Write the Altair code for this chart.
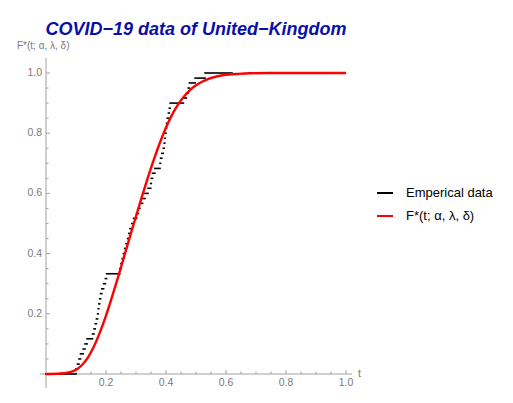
import altair as alt
import pandas as pd

# ---------------- data ----------------
# empirical CDF: step start positions and step heights
emp_x = [0.000, 0.100, 0.105, 0.110, 0.115, 0.124, 0.130, 0.137, 0.155, 0.160,
         0.164, 0.168, 0.172, 0.174, 0.176, 0.179, 0.182, 0.186, 0.192, 0.198,
         0.202, 0.246, 0.250, 0.254, 0.258, 0.262, 0.267, 0.272, 0.276, 0.280,
         0.286, 0.292, 0.302, 0.308, 0.313, 0.322, 0.330, 0.340, 0.349, 0.351,
         0.355, 0.363, 0.380, 0.382, 0.386, 0.391, 0.394, 0.396, 0.397, 0.400,
         0.402, 0.404, 0.408, 0.411, 0.414, 0.458, 0.468, 0.474, 0.478, 0.497,
         0.530]
emp_y = [0.000, 0.017, 0.033, 0.050, 0.067, 0.083, 0.100, 0.117, 0.133, 0.150,
         0.167, 0.183, 0.200, 0.217, 0.233, 0.250, 0.267, 0.283, 0.300, 0.317,
         0.333, 0.350, 0.367, 0.383, 0.400, 0.417, 0.433, 0.450, 0.467, 0.483,
         0.500, 0.517, 0.533, 0.550, 0.567, 0.583, 0.600, 0.617, 0.633, 0.650,
         0.667, 0.683, 0.700, 0.717, 0.733, 0.750, 0.767, 0.783, 0.800, 0.817,
         0.833, 0.850, 0.867, 0.883, 0.900, 0.917, 0.933, 0.950, 0.967, 0.983,
         1.000]
emp_last_end = 0.62

# fitted CDF F*(t; alpha, lambda, delta), sampled along the red curve
fit_x = [0.00, 0.04, 0.08, 0.10, 0.12, 0.14, 0.16, 0.18, 0.20, 0.22,
         0.24, 0.26, 0.28, 0.30, 0.32, 0.34, 0.36, 0.38, 0.40, 0.42,
         0.44, 0.46, 0.48, 0.50, 0.52, 0.54, 0.56, 0.58, 0.61, 0.64,
         0.68, 0.74, 0.82, 1.00]
fit_y = [0.000, 0.0006, 0.006, 0.014, 0.030, 0.055, 0.092, 0.139, 0.194, 0.256,
         0.321, 0.389, 0.457, 0.524, 0.590, 0.654, 0.714, 0.769, 0.819, 0.861,
         0.895, 0.922, 0.943, 0.959, 0.971, 0.980, 0.986, 0.991, 0.995, 0.997,
         0.999, 1.000, 1.000, 1.000]

major_ticks = [0.2, 0.4, 0.6, 0.8, 1.0]
major_labels = ["0.2", "0.4", "0.6", "0.8", "1.0"]
minor_ticks = [0.05, 0.10, 0.15, 0.25, 0.30, 0.35, 0.45, 0.50, 0.55,
               0.65, 0.70, 0.75, 0.85, 0.90, 0.95]

series_names = ["Emperical data", "F*(t; α, λ, δ)"]
series_colors = ["#000000", "#ff0000"]

title_text = "COVID−19 data of United−Kingdom"
y_title_text = "F*(t; α, λ, δ)"
x_title_text = "t"

# axis extents (data units)
x_axis_range = [-0.02, 1.02]
y_axis_range = [-0.047, 1.05]

# ---------------- layout ----------------
W, H = 490, 383
PX_X, PX_Y = 300.0, 301.0      # pixels per data unit
X0_PIX, Y1_PIX = 38, 65        # chart pixel of x=0 and of y=1
x_dom = [-X0_PIX / PX_X, (W - X0_PIX) / PX_X]
y_dom = [1 - (H - Y1_PIX) / PX_Y, 1 + Y1_PIX / PX_Y]

FONT = "Liberation Sans"
AXIS_GRAY = "#a0a0a0"
LABEL_GRAY = "#7a7a7a"


def X(field=None, datum=None):
    kw = dict(type="quantitative", scale=alt.Scale(domain=x_dom, nice=False, zero=False), axis=None)
    if field is not None:
        return alt.X(field, **kw)
    return alt.X(datum=datum, **kw)


def Y(field=None, datum=None):
    kw = dict(type="quantitative", scale=alt.Scale(domain=y_dom, nice=False, zero=False), axis=None)
    if field is not None:
        return alt.Y(field, **kw)
    return alt.Y(datum=datum, **kw)


one = pd.DataFrame({"a": [0]})

# axis lines
x_axis_line = alt.Chart(one).mark_rule(color=AXIS_GRAY, strokeWidth=1).encode(
    x=X(datum=x_axis_range[0]), x2=alt.X2(datum=x_axis_range[1]), y=Y(datum=0))
y_axis_line = alt.Chart(one).mark_rule(color=AXIS_GRAY, strokeWidth=1).encode(
    y=Y(datum=y_axis_range[0]), y2=alt.Y2(datum=y_axis_range[1]), x=X(datum=0))

major_df = pd.DataFrame({"v": major_ticks, "lab": major_labels})
minor_df = pd.DataFrame({"v": minor_ticks})

# ticks (pointing inward)
y_major = alt.Chart(major_df).mark_rule(color=AXIS_GRAY, x2Offset=4).encode(
    y=Y("v"), x=X(datum=0), x2=alt.X2(datum=0))
y_minor = alt.Chart(minor_df).mark_rule(color=AXIS_GRAY, x2Offset=2.5).encode(
    y=Y("v"), x=X(datum=0), x2=alt.X2(datum=0))
x_major = alt.Chart(major_df).mark_rule(color=AXIS_GRAY, y2Offset=-4).encode(
    x=X("v"), y=Y(datum=0), y2=alt.Y2(datum=0))
x_minor = alt.Chart(minor_df).mark_rule(color=AXIS_GRAY, y2Offset=-2.5).encode(
    x=X("v"), y=Y(datum=0), y2=alt.Y2(datum=0))

# tick labels
y_labels = alt.Chart(major_df).mark_text(
    align="right", baseline="middle", dx=-4, font=FONT, fontSize=10.5, color=LABEL_GRAY
).encode(y=Y("v"), x=X(datum=0), text="lab:N")
x_labels = alt.Chart(major_df).mark_text(
    align="center", baseline="top", dy=4, font=FONT, fontSize=10.5, color=LABEL_GRAY
).encode(x=X("v"), y=Y(datum=0), text="lab:N")

color_scale = alt.Scale(domain=series_names, range=series_colors)
legend = alt.Legend(
    title=None, orient="none", legendX=368, legendY=176,
    symbolType="stroke", symbolStrokeWidth=2, symbolSize=256,
    labelFont=FONT, labelFontSize=13, labelColor="black", labelOffset=12,
    rowPadding=7, padding=0)

emp_end = emp_x[1:] + [emp_last_end]
emp_df = pd.DataFrame({"x": emp_x, "x2": emp_end, "y": emp_y, "series": series_names[0]})
emp = alt.Chart(emp_df).mark_rule(strokeWidth=1.6, strokeCap="square").encode(
    x=X("x"), x2="x2", y=Y("y"),
    color=alt.Color("series:N", scale=color_scale, legend=legend))

fit_df = pd.DataFrame({"x": fit_x, "y": fit_y, "series": series_names[1]})
fit = alt.Chart(fit_df).mark_line(strokeWidth=2.4, interpolate="monotone").encode(
    x=X("x"), y=Y("y"),
    color=alt.Color("series:N", scale=color_scale, legend=legend))

# titles
title = alt.Chart(one).mark_text(
    text=title_text, font=FONT, fontSize=18, fontWeight="bold", fontStyle="italic",
    color="#0a0fa8", align="center", baseline="alphabetic"
).encode(x=alt.value(188), y=alt.value(27))
y_title = alt.Chart(one).mark_text(
    text=y_title_text, font=FONT, fontSize=10, color=LABEL_GRAY, align="left", baseline="middle"
).encode(x=alt.value(9), y=alt.value(38))
x_title = alt.Chart(one).mark_text(
    text=x_title_text, font=FONT, fontSize=10.5, color=LABEL_GRAY, align="left", baseline="middle", dx=6
).encode(x=X(datum=x_axis_range[1]), y=Y(datum=0))

chart = alt.layer(
    x_axis_line, y_axis_line, y_major, y_minor, x_major, x_minor,
    y_labels, x_labels, emp, fit, title, y_title, x_title
).properties(
    width=W, height=H, padding=0,
    autosize=alt.AutoSizeParams(type="none"),
).configure_view(stroke=None)

chart.save("out.html", embed_options={"renderer": "svg", "actions": False})
